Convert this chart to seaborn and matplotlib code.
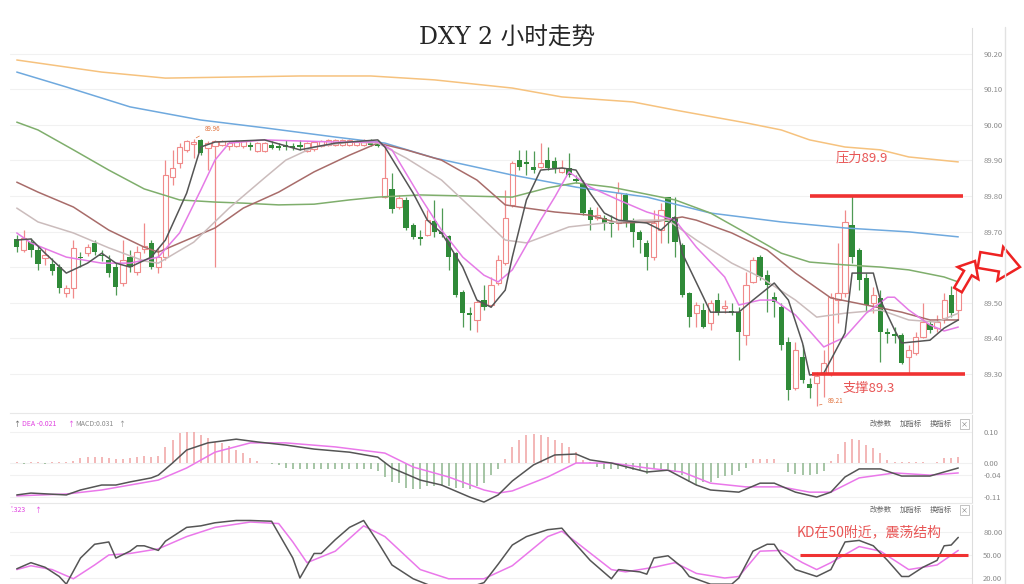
import numpy as np
import matplotlib
matplotlib.use("Agg")
import matplotlib.pyplot as plt
import matplotlib.patches as mpatches
from matplotlib.lines import Line2D
from matplotlib.transforms import IdentityTransform
import seaborn as sns

# ---- candles (2h bars) ----
opens = [89.679, 89.648, 89.670, 89.648, 89.625, 89.608, 89.600, 89.527, 89.541, 89.628,
         89.639, 89.668, 89.634, 89.620, 89.600, 89.555, 89.628, 89.586, 89.651, 89.668,
         89.600, 89.628, 89.854, 89.893, 89.930, 89.946, 89.958, 89.935, 89.942, 89.945,
         89.940, 89.942, 89.942, 89.945, 89.927, 89.927, 89.944, 89.941, 89.943, 89.940,
         89.943, 89.927, 89.932, 89.940, 89.945, 89.945, 89.945, 89.945, 89.945, 89.945,
         89.958, 89.955, 89.797, 89.820, 89.769, 89.789, 89.718, 89.685, 89.690, 89.730,
         89.699, 89.687, 89.639, 89.530, 89.470, 89.451, 89.507, 89.493, 89.555, 89.611,
         89.775, 89.901, 89.896, 89.882, 89.882, 89.901, 89.899, 89.868, 89.879, 89.848,
         89.837, 89.761, 89.738, 89.738, 89.727, 89.724, 89.803, 89.727, 89.699, 89.668,
         89.628, 89.704, 89.797, 89.741, 89.662, 89.527, 89.470, 89.479, 89.442, 89.507,
         89.485, 89.476, 89.473, 89.408, 89.558, 89.628, 89.577, 89.515, 89.487, 89.389,
         89.259, 89.346, 89.270, 89.273, 89.301, 89.301, 89.507, 89.527, 89.718, 89.648,
         89.569, 89.499, 89.513, 89.417, 89.411, 89.408, 89.346, 89.358, 89.403, 89.439,
         89.428, 89.456, 89.521, 89.479]
highs = [89.690, 89.704, 89.682, 89.659, 89.654, 89.625, 89.608, 89.549, 89.676, 89.642,
         89.665, 89.676, 89.648, 89.634, 89.611, 89.676, 89.648, 89.659, 89.724, 89.676,
         89.654, 89.901, 89.930, 89.949, 89.958, 89.960, 89.960, 89.955, 89.958, 89.958,
         89.955, 89.958, 89.958, 89.952, 89.952, 89.952, 89.955, 89.950, 89.958, 89.950,
         89.958, 89.952, 89.955, 89.958, 89.960, 89.960, 89.960, 89.960, 89.958, 89.960,
         89.960, 89.958, 89.938, 89.865, 89.803, 89.797, 89.724, 89.704, 89.761, 89.789,
         89.766, 89.690, 89.642, 89.535, 89.487, 89.507, 89.549, 89.572, 89.634, 89.817,
         89.899, 89.930, 89.930, 89.927, 89.949, 89.938, 89.910, 89.901, 89.921, 89.859,
         89.845, 89.769, 89.769, 89.746, 89.746, 89.839, 89.808, 89.738, 89.704, 89.676,
         89.761, 89.780, 89.797, 89.797, 89.668, 89.530, 89.501, 89.499, 89.507, 89.527,
         89.507, 89.499, 89.487, 89.586, 89.628, 89.634, 89.592, 89.530, 89.499, 89.403,
         89.389, 89.380, 89.287, 89.304, 89.366, 89.527, 89.668, 89.761, 89.800, 89.654,
         89.583, 89.544, 89.535, 89.428, 89.431, 89.414, 89.380, 89.417, 89.499, 89.451,
         89.465, 89.527, 89.546, 89.549]
lows = [89.642, 89.642, 89.628, 89.592, 89.606, 89.577, 89.527, 89.515, 89.513, 89.600,
        89.631, 89.634, 89.617, 89.572, 89.521, 89.546, 89.586, 89.577, 89.639, 89.594,
        89.583, 89.620, 89.831, 89.879, 89.924, 89.907, 89.915, 89.873, 89.600, 89.940,
        89.930, 89.938, 89.935, 89.930, 89.925, 89.925, 89.932, 89.930, 89.930, 89.930,
        89.930, 89.925, 89.928, 89.937, 89.942, 89.942, 89.942, 89.942, 89.942, 89.942,
        89.942, 89.938, 89.794, 89.752, 89.763, 89.704, 89.679, 89.662, 89.687, 89.685,
        89.685, 89.592, 89.515, 89.431, 89.423, 89.417, 89.479, 89.487, 89.549, 89.606,
        89.769, 89.873, 89.859, 89.865, 89.879, 89.873, 89.865, 89.865, 89.854, 89.837,
        89.746, 89.704, 89.732, 89.704, 89.685, 89.704, 89.713, 89.656, 89.639, 89.592,
        89.620, 89.668, 89.668, 89.628, 89.515, 89.431, 89.431, 89.428, 89.423, 89.465,
        89.470, 89.465, 89.338, 89.380, 89.555, 89.563, 89.473, 89.459, 89.366, 89.225,
        89.254, 89.273, 89.231, 89.210, 89.234, 89.293, 89.442, 89.515, 89.611, 89.535,
        89.473, 89.470, 89.332, 89.386, 89.386, 89.327, 89.301, 89.352, 89.400, 89.414,
        89.417, 89.442, 89.459, 89.451]
closes = [89.656, 89.682, 89.648, 89.608, 89.634, 89.589, 89.541, 89.541, 89.654, 89.625,
          89.656, 89.642, 89.631, 89.583, 89.544, 89.620, 89.600, 89.642, 89.659, 89.600,
          89.628, 89.859, 89.879, 89.938, 89.955, 89.952, 89.921, 89.949, 89.955, 89.955,
          89.950, 89.955, 89.955, 89.938, 89.949, 89.949, 89.935, 89.935, 89.937, 89.934,
          89.937, 89.949, 89.952, 89.955, 89.958, 89.958, 89.958, 89.958, 89.955, 89.958,
          89.945, 89.941, 89.851, 89.763, 89.794, 89.710, 89.685, 89.679, 89.732, 89.699,
          89.693, 89.628, 89.521, 89.470, 89.465, 89.501, 89.487, 89.549, 89.620, 89.738,
          89.893, 89.882, 89.890, 89.873, 89.893, 89.879, 89.879, 89.879, 89.859, 89.842,
          89.752, 89.732, 89.746, 89.724, 89.721, 89.808, 89.724, 89.699, 89.676, 89.628,
          89.724, 89.761, 89.727, 89.670, 89.521, 89.459, 89.493, 89.431, 89.499, 89.470,
          89.490, 89.470, 89.417, 89.549, 89.620, 89.572, 89.549, 89.501, 89.380, 89.254,
          89.366, 89.282, 89.259, 89.293, 89.330, 89.515, 89.527, 89.727, 89.628, 89.563,
          89.493, 89.521, 89.417, 89.411, 89.406, 89.330, 89.366, 89.403, 89.445, 89.423,
          89.445, 89.507, 89.470, 89.541]

# ---- moving averages (bar number, value) ----
ma5_idx = [0, 2, 4, 7, 10, 12, 14, 16, 19, 21, 24, 26, 28, 35, 40, 45, 51, 52, 56, 58,
           60, 63, 65, 67, 69, 70, 72, 74, 77, 79, 81, 83, 85, 89, 91, 93, 94, 97, 98, 102,
           104, 107, 109, 111, 112, 114, 117, 118, 121, 122, 124, 125, 129, 131, 133]
ma5_val = [89.676, 89.679, 89.639, 89.583, 89.611, 89.639, 89.611, 89.600, 89.628, 89.676,
           89.808, 89.938, 89.952, 89.958, 89.930, 89.949, 89.958, 89.938, 89.808, 89.732,
           89.696, 89.600, 89.507, 89.487, 89.535, 89.628, 89.789, 89.873, 89.879, 89.873,
           89.808, 89.752, 89.732, 89.724, 89.704, 89.741, 89.639, 89.515, 89.473, 89.473,
           89.507, 89.555, 89.507, 89.386, 89.296, 89.301, 89.414, 89.583, 89.583, 89.507,
           89.423, 89.386, 89.394, 89.428, 89.451]
ma10_idx = [0, 2, 7, 12, 16, 20, 23, 26, 28, 30, 35, 45, 51, 53, 57, 60, 63, 66, 68, 70,
            74, 76, 78, 81, 85, 89, 93, 96, 100, 102, 105, 107, 110, 114, 117, 120, 123, 124,
            126, 129, 131, 133]
ma10_val = [89.696, 89.668, 89.628, 89.611, 89.611, 89.628, 89.696, 89.817, 89.901, 89.949,
            89.958, 89.952, 89.952, 89.930, 89.797, 89.704, 89.628, 89.577, 89.558, 89.592,
            89.732, 89.797, 89.868, 89.825, 89.789, 89.755, 89.732, 89.656, 89.572, 89.493,
            89.507, 89.507, 89.465, 89.375, 89.403, 89.470, 89.515, 89.515, 89.479, 89.437,
            89.420, 89.431]
ma20_idx = [0, 3, 8, 13, 18, 20, 25, 30, 35, 38, 42, 47, 51, 55, 60, 65, 69, 72, 78, 83,
            88, 92, 96, 101, 105, 110, 113, 117, 122, 126, 130, 133]
ma20_val = [89.766, 89.727, 89.696, 89.654, 89.617, 89.611, 89.670, 89.766, 89.851, 89.901,
            89.938, 89.952, 89.949, 89.907, 89.845, 89.752, 89.676, 89.668, 89.713, 89.724,
            89.732, 89.732, 89.676, 89.611, 89.572, 89.507, 89.459, 89.470, 89.479, 89.451,
            89.445, 89.470]
ma30_idx = [0, 3, 8, 13, 18, 20, 28, 32, 37, 42, 47, 51, 55, 60, 65, 69, 72, 76, 81, 85,
            90, 94, 96, 101, 106, 110, 113, 115, 120, 125, 129, 133]
ma30_val = [89.839, 89.811, 89.769, 89.704, 89.656, 89.642, 89.710, 89.766, 89.811, 89.868,
            89.915, 89.949, 89.930, 89.901, 89.845, 89.775, 89.766, 89.755, 89.746, 89.724,
            89.727, 89.741, 89.732, 89.696, 89.648, 89.583, 89.541, 89.513, 89.493, 89.473,
            89.451, 89.451]
ma60_idx = [0, 3, 8, 13, 18, 23, 28, 32, 37, 42, 47, 51, 57, 70, 75, 79, 84, 93, 98, 103,
            108, 112, 117, 122, 126, 131, 133]
ma60_val = [90.008, 89.986, 89.930, 89.873, 89.820, 89.789, 89.783, 89.780, 89.775, 89.777,
            89.789, 89.797, 89.803, 89.797, 89.823, 89.837, 89.825, 89.789, 89.752, 89.696,
            89.639, 89.614, 89.606, 89.600, 89.592, 89.572, 89.558]
ma120_idx = [0, 7, 16, 26, 35, 45, 52, 59, 70, 79, 89, 98, 108, 117, 126, 133]
ma120_val = [90.149, 90.107, 90.051, 90.014, 89.992, 89.966, 89.949, 89.907, 89.859, 89.825,
             89.797, 89.752, 89.727, 89.710, 89.699, 89.685]
ma240_idx = [0, 12, 21, 40, 50, 59, 70, 77, 87, 93, 103, 108, 112, 117, 122, 126, 133]
ma240_val = [90.183, 90.149, 90.132, 90.138, 90.138, 90.127, 90.104, 90.079, 90.065, 90.042,
             90.006, 89.986, 89.958, 89.938, 89.930, 89.910, 89.896]

# ---- MACD ----
dif_idx = [0, 2, 7, 9, 12, 14, 16, 19, 20, 22, 24, 27, 31, 34, 38, 42, 47, 51, 53, 57,
           60, 64, 66, 68, 70, 73, 76, 79, 81, 84, 89, 92, 96, 98, 102, 105, 107, 110, 113, 115,
           117, 119, 122, 125, 129, 131, 133]
dif_val = [-0.103, -0.097, -0.103, -0.087, -0.071, -0.071, -0.061, -0.048, -0.039, 0.000,
           0.042, 0.065, 0.077, 0.068, 0.058, 0.045, 0.035, 0.019, -0.016, -0.055,
           -0.071, -0.110, -0.126, -0.103, -0.058, -0.006, 0.026, 0.029, 0.010, 0.000,
           -0.029, -0.023, -0.071, -0.087, -0.094, -0.065, -0.065, -0.094, -0.110, -0.094,
           -0.045, -0.019, -0.019, -0.042, -0.042, -0.029, -0.016]
dea_idx = [0, 7, 12, 16, 20, 24, 28, 33, 38, 45, 52, 56, 61, 66, 68, 70, 75, 79, 84, 89,
           94, 98, 103, 108, 112, 115, 119, 124, 129, 133]
dea_val = [-0.106, -0.100, -0.087, -0.071, -0.055, -0.016, 0.035, 0.065, 0.065, 0.052,
           0.032, -0.013, -0.045, -0.087, -0.097, -0.090, -0.045, 0.000, 0.000, -0.016,
           -0.029, -0.065, -0.077, -0.077, -0.094, -0.094, -0.048, -0.032, -0.039, -0.032]
macd_hist = [0.003, -0.002, 0.002, 0.002, -0.002, 0.002, 0.002, 0.003, 0.005, 0.016,
             0.019, 0.020, 0.019, 0.016, 0.013, 0.014, 0.016, 0.019, 0.022, 0.020,
             0.022, 0.051, 0.073, 0.096, 0.100, 0.100, 0.089, 0.080, 0.069, 0.065,
             0.054, 0.043, 0.032, 0.016, 0.005, 0.001, -0.004, -0.006, -0.015, -0.018,
             -0.018, -0.020, -0.020, -0.018, -0.020, -0.020, -0.018, -0.020, -0.020, -0.018,
             -0.020, -0.025, -0.045, -0.060, -0.065, -0.080, -0.085, -0.085, -0.075, -0.075,
             -0.075, -0.075, -0.080, -0.080, -0.085, -0.075, -0.065, -0.040, -0.020, 0.013,
             0.052, 0.074, 0.090, 0.094, 0.090, 0.084, 0.074, 0.065, 0.052, 0.035,
             0.010, 0.003, -0.013, -0.018, -0.020, -0.020, -0.018, -0.023, -0.026, -0.035,
             -0.020, -0.020, -0.020, -0.029, -0.040, -0.060, -0.070, -0.060, -0.060, -0.048,
             -0.042, -0.038, -0.026, -0.015, 0.012, 0.014, 0.014, 0.012, 0.000, -0.030,
             -0.035, -0.040, -0.040, -0.035, -0.026, 0.008, 0.030, 0.068, 0.078, 0.073,
             0.057, 0.047, 0.031, 0.010, 0.003, 0.002, 0.002, 0.002, 0.002, 0.001,
             0.004, 0.016, 0.016, 0.020]

# ---- KD ----
k_idx = [0, 2, 4, 6, 7, 9, 11, 13, 14, 16, 17, 18, 20, 21, 24, 26, 28, 31, 33, 36,
         39, 40, 42, 43, 45, 47, 49, 51, 53, 56, 59, 63, 66, 68, 70, 72, 75, 77, 78, 81,
         84, 85, 88, 89, 90, 92, 94, 95, 98, 101, 102, 104, 106, 107, 108, 110, 113, 115, 117, 119,
         121, 123, 125, 126, 128, 130, 131, 132, 133]
k_val = [32, 40, 34, 22, 12, 46, 64, 67, 46, 55, 62, 62, 56, 68, 86, 88, 92, 95, 95, 94,
         46, 20, 52, 52, 70, 86, 95, 67, 37, 19, 8, 5, 14, 38, 63, 74, 83, 85, 74, 43,
         19, 31, 28, 25, 46, 49, 34, 22, 12, 12, 20, 55, 64, 64, 50, 31, 22, 31, 67, 69,
         62, 43, 22, 22, 34, 43, 62, 63, 73]
d_idx = [0, 2, 5, 8, 11, 13, 16, 20, 24, 28, 33, 37, 39, 41, 45, 49, 52, 57, 61, 66,
         70, 75, 77, 79, 84, 86, 90, 93, 96, 100, 102, 105, 108, 111, 113, 115, 119, 122, 126, 130,
         133]
d_val = [31, 36, 31, 19, 37, 50, 52, 58, 74, 86, 93, 91, 67, 40, 55, 88, 74, 31, 19, 19,
         36, 74, 81, 67, 31, 28, 34, 40, 26, 20, 22, 55, 56, 40, 31, 40, 61, 55, 31, 37,
         56]

# annotation levels
resistance = 89.80
support = 89.30
kd_level = 50

RED = '#f08a8a'
GREEN = '#2f8a38'
MARK = '#f03232'

sns.set_style("white")
plt.rcParams['font.family'] = ['Noto Sans CJK SC', 'DejaVu Sans']

fig = plt.figure(figsize=(10.24, 5.84), dpi=100)
ax = fig.add_axes([0.0098, 0.2928, 0.9395, 0.6592])
ax_macd = fig.add_axes([0.0098, 0.1387, 0.9395, 0.1507])
ax_kd = fig.add_axes([0.0098, 0.0, 0.9395, 0.1353])

o = np.array(opens); h = np.array(highs); l = np.array(lows); c = np.array(closes)
x = np.arange(len(c))
up = c >= o

# candles
ax.vlines(x[up], l[up], h[up], color=RED, lw=0.9, zorder=2)
ax.vlines(x[~up], l[~up], h[~up], color='#4f9a55', lw=0.9, zorder=2)
ax.bar(x[up], np.maximum(c[up] - o[up], 0.002), bottom=o[up], width=0.74,
       facecolor='white', edgecolor=RED, lw=0.8, zorder=2.5)
ax.bar(x[~up], np.maximum(o[~up] - c[~up], 0.002), bottom=c[~up], width=0.74,
       color=GREEN, lw=0, zorder=2.5)

# moving averages
for idx, val, col in [(ma240_idx, ma240_val, '#f6c27e'), (ma120_idx, ma120_val, '#6fa9de'),
                      (ma60_idx, ma60_val, '#7fae6c'), (ma30_idx, ma30_val, '#a86c6a'),
                      (ma20_idx, ma20_val, '#cbbcbc'), (ma10_idx, ma10_val, '#e57be6'),
                      (ma5_idx, ma5_val, '#555555')]:
    sns.lineplot(x=idx, y=val, ax=ax, color=col, lw=1.1, estimator=None, sort=False,
                 legend=False, zorder=3)

# support / resistance
ax.hlines(resistance, 112.0, 133.7, color=MARK, lw=2.6, zorder=4)
ax.hlines(support, 112.3, 133.9, color=MARK, lw=2.6, zorder=4)
ax.text(115.6, 89.907, '压力89.9', color='#e85555', fontsize=9.5, va='center', ha='left')
ax.text(116.6, 89.259, '支撑89.3', color='#e85555', fontsize=9.5, va='center', ha='left')

hi = int(np.argmax(h)); lo = int(np.argmin(l))
ax.annotate(f'{h[hi]:.2f}', xy=(hi, h[hi]), xytext=(hi + 1.6, h[hi] + 0.03), fontsize=4.5,
            color='#e0703a', va='center', arrowprops=dict(arrowstyle='-', color='#e0703a', lw=0.5))
ax.annotate(f'{l[lo]:.2f}', xy=(lo, l[lo]), xytext=(lo + 1.6, l[lo] + 0.012), fontsize=4.5,
            color='#e0703a', va='center', arrowprops=dict(arrowstyle='-', color='#e0703a', lw=0.5))

# MACD panel
hist = np.array(macd_hist)
ax_macd.vlines(x, 0, hist, colors=np.where(hist >= 0, '#f0a3a3', '#8db58d'), lw=1.1, zorder=2)
sns.lineplot(x=dea_idx, y=dea_val, ax=ax_macd, color='#ea78ea', lw=1.1, estimator=None,
             sort=False, legend=False, zorder=3)
sns.lineplot(x=dif_idx, y=dif_val, ax=ax_macd, color='#555555', lw=1.1, estimator=None,
             sort=False, legend=False, zorder=3)

# KD panel
sns.lineplot(x=d_idx, y=d_val, ax=ax_kd, color='#ea78ea', lw=1.1, estimator=None,
             sort=False, legend=False, zorder=3)
sns.lineplot(x=k_idx, y=k_val, ax=ax_kd, color='#555555', lw=1.1, estimator=None,
             sort=False, legend=False, zorder=3)
ax_kd.hlines(kd_level, 110.6, 134.4, color=MARK, lw=2.2, zorder=4)
ax_kd.text(110.2, 80, 'KD在50附近，震荡结构', color='#e85555', fontsize=10, va='center', ha='left')

# axes styling
panels = [(ax, (89.189, 90.273), np.round(np.arange(89.3, 90.21, 0.1), 2), '%.2f'),
          (ax_macd, (-0.129, 0.155), [0.10, 0.00, -0.04, -0.11], '%.2f'),
          (ax_kd, (12.2, 115.2), [80, 50, 20], '%.2f')]
for a, ylim, ticks, fmt in panels:
    a.set_xlim(-0.95, 134.95)
    a.set_ylim(*ylim)
    a.set_xticks([])
    a.set_yticks(ticks)
    a.set_yticklabels([fmt % t for t in ticks])
    a.yaxis.tick_right()
    a.tick_params(axis='y', length=0, pad=8, labelsize=5.5, labelcolor='#8a8a8a')
    a.grid(axis='y', color='#f1f1f1', lw=0.8, zorder=0)
    a.set_xlabel('')
    a.set_ylabel('')
    for s in ['top', 'left']:
        a.spines[s].set_visible(False)
    a.spines['right'].set_color('#dddddd')
    a.spines['bottom'].set_color('#e8e8e8')
ax_kd.spines['bottom'].set_visible(False)

# title
fig.text(0.495, 0.935, 'DXY 2 小时走势', ha='center', va='center', fontsize=17,
         family=['DejaVu Serif', 'Noto Sans CJK SC'])

# indicator headers
def px(xp, yp):
    return xp / 1024, 1 - yp / 584

fig.text(*px(13, 424), '↑', fontsize=5, color='#555555', va='center')
fig.text(*px(22, 424), 'DEA -0.021', fontsize=5, color='#e040e0', va='center')
fig.text(*px(67, 424), '↑', fontsize=5, color='#e040e0', va='center')
fig.text(*px(75, 424), 'MACD:0.031', fontsize=5, color='#888888', va='center')
fig.text(*px(118, 424), '↑', fontsize=5, color='#888888', va='center')
fig.text(*px(10, 510), '\'.323', fontsize=5, color='#e040e0', va='center')
fig.text(*px(34, 510), '↑', fontsize=5, color='#e040e0', va='center')
for yp in (424, 510):
    fig.text(*px(870, yp), '改参数', fontsize=5.3, color='#666666', va='center')
    fig.text(*px(900, yp), '加指标', fontsize=5.3, color='#666666', va='center')
    fig.text(*px(930, yp), '换指标', fontsize=5.3, color='#666666', va='center')
    fig.text(*px(961, yp), '×', fontsize=5, color='#777777', va='center',
             bbox=dict(boxstyle='square,pad=0.15', fc='white', ec='#aaaaaa', lw=0.5))

# outer frame line on the right
fig.add_artist(Line2D([1005 / 1024, 1005 / 1024], [0, 1 - 27 / 584], color='#e2e2e2', lw=1))

# hollow red arrows
for (x0, y0, dx, dy, w, hw, hl) in [(958, 294, 17, 29, 9, 24, 14),
                                    (979, 324, 41, -7, 16, 34, 20)]:
    arr = mpatches.FancyArrow(x0, y0, dx, dy, width=w, head_width=hw, head_length=hl,
                              length_includes_head=True, fill=True, fc='white',
                              ec='#ee2222', lw=1.8, transform=IdentityTransform())
    fig.add_artist(arr)

fig.savefig('out.png', dpi=100, facecolor='white')
